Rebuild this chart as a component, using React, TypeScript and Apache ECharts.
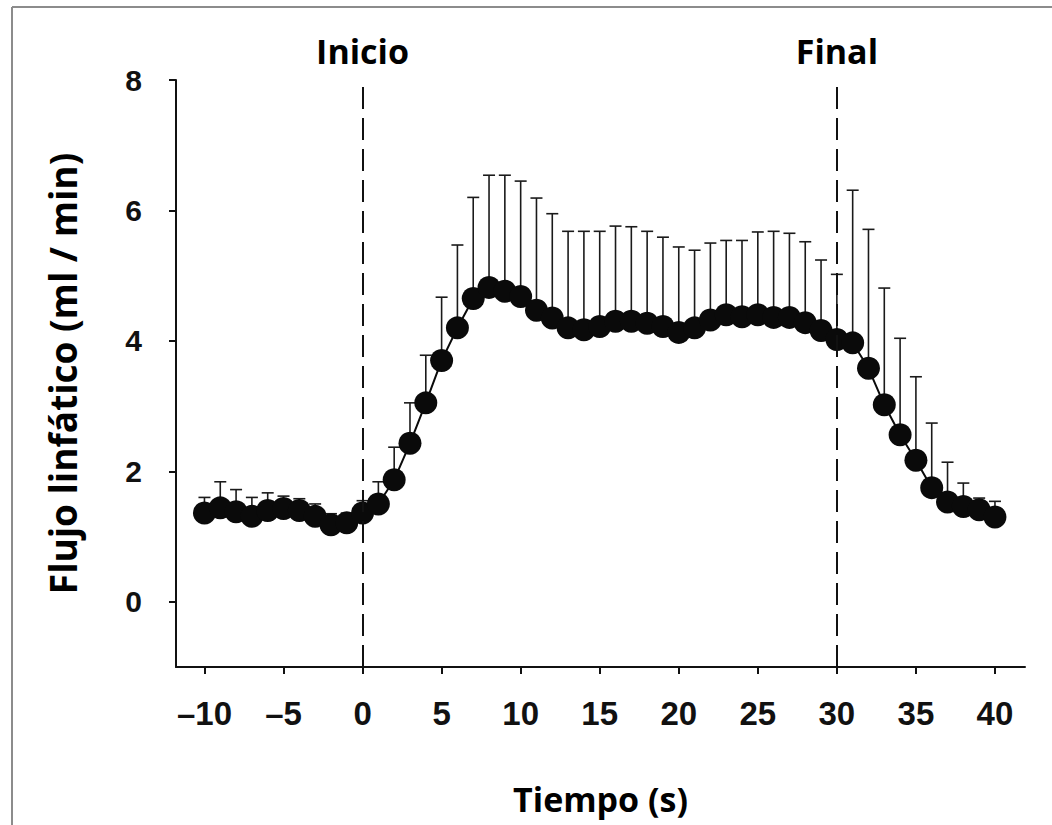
import React, { useEffect, useRef } from "react";
import * as echarts from "echarts";

const times = [-10, -9, -8, -7, -6, -5, -4, -3, -2, -1, 0, 1, 2, 3, 4, 5, 6, 7, 8, 9, 10, 11, 12, 13, 14, 15, 16, 17, 18, 19, 20, 21, 22, 23, 24, 25, 26, 27, 28, 29, 30, 31, 32, 33, 34, 35, 36, 37, 38, 39, 40];
const meanFlow = [1.36, 1.44, 1.38, 1.31, 1.40, 1.43, 1.40, 1.31, 1.18, 1.21, 1.36, 1.50, 1.87, 2.43, 3.05, 3.70, 4.20, 4.65, 4.82, 4.76, 4.68, 4.47, 4.35, 4.20, 4.17, 4.22, 4.30, 4.30, 4.27, 4.22, 4.13, 4.20, 4.32, 4.40, 4.37, 4.40, 4.36, 4.36, 4.28, 4.16, 4.02, 3.97, 3.58, 3.02, 2.56, 2.17, 1.75, 1.53, 1.46, 1.41, 1.30];
const upperFlow = [1.60, 1.84, 1.72, 1.60, 1.67, 1.62, 1.58, 1.50, 1.35, 1.36, 1.55, 1.84, 2.37, 3.05, 3.78, 4.67, 5.47, 6.20, 6.54, 6.54, 6.45, 6.19, 5.95, 5.68, 5.68, 5.68, 5.76, 5.75, 5.68, 5.59, 5.44, 5.39, 5.50, 5.54, 5.54, 5.67, 5.68, 5.65, 5.52, 5.24, 5.02, 6.31, 5.71, 4.81, 4.04, 3.45, 2.74, 2.14, 1.82, 1.59, 1.54];
const xTicks = [-10, -5, 0, 5, 10, 15, 20, 25, 30, 35, 40];
const yTicks = [0, 2, 4, 6, 8];
const eventMarks = [
  { x: 0, label: "Inicio" },
  { x: 30, label: "Final" },
];

const titleFont = "'Open Sans', 'Noto Sans', sans-serif";
const tickFont = "'Liberation Sans', Arial, sans-serif";

export default function App() {
  const ref = useRef<HTMLDivElement>(null);
  useEffect(() => {
    document.body.style.margin = "0";
    const chart = echarts.init(ref.current!, undefined, { renderer: "svg" });
    const lineData = times.map((t, i) => [t, meanFlow[i]]);
    const errData = times.map((t, i) => [t, meanFlow[i], upperFlow[i]]);
    chart.setOption({
      animation: false,
      backgroundColor: "#ffffff",
      graphic: [
        { type: "line", shape: { x1: 12, y1: 7, x2: 12, y2: 825 }, style: { stroke: "#8c8c8c", lineWidth: 2 } },
        { type: "line", shape: { x1: 12, y1: 7, x2: 1052, y2: 7 }, style: { stroke: "#8c8c8c", lineWidth: 2 } },
      ],
      grid: { left: 176, right: 27, top: 80, bottom: 158, containLabel: false },
      xAxis: {
        type: "value",
        min: -11.8,
        max: 41.9,
        name: "Tiempo (s)",
        nameLocation: "middle",
        nameGap: 115,
        nameTextStyle: { fontFamily: titleFont, fontWeight: "bold", fontSize: 34, color: "#000" },
        axisLine: { show: true, onZero: false, lineStyle: { color: "#111", width: 2 } },
        axisTick: { show: true, customValues: xTicks, length: 7, lineStyle: { color: "#111", width: 2 } },
        axisLabel: {
          customValues: xTicks,
          margin: 30,
          fontFamily: tickFont,
          fontWeight: "bold",
          fontSize: 33,
          color: "#111",
          formatter: (v: number) => String(v).replace("-", "\u2013"),
        },
        splitLine: { show: false },
      },
      yAxis: {
        type: "value",
        min: -1,
        max: 8,
        name: "Flujo linfático (ml / min)",
        nameLocation: "middle",
        nameGap: 95,
        nameTextStyle: { fontFamily: titleFont, fontWeight: "bold", fontSize: 37, color: "#000" },
        axisLine: { show: true, onZero: false, lineStyle: { color: "#111", width: 2 } },
        axisTick: { show: true, customValues: yTicks, length: 7, lineStyle: { color: "#111", width: 2 } },
        axisLabel: {
          customValues: yTicks,
          margin: 34,
          fontFamily: tickFont,
          fontWeight: "bold",
          fontSize: 30,
          color: "#111",
        },
        splitLine: { show: false },
      },
      series: [
        {
          type: "custom",
          z: 2,
          data: errData,
          encode: { x: 0, y: [1, 2] },
          renderItem: (params: any, api: any) => {
            const x = api.value(0);
            const m = api.value(1);
            const u = api.value(2);
            const p0 = api.coord([x, m]);
            const p1 = api.coord([x, u]);
            const hw = 6;
            const st = { stroke: "#1a1a1a", lineWidth: 1.6 };
            return {
              type: "group",
              children: [
                { type: "line", shape: { x1: p0[0], y1: p0[1], x2: p1[0], y2: p1[1] }, style: st },
                { type: "line", shape: { x1: p1[0] - hw, y1: p1[1], x2: p1[0] + hw, y2: p1[1] }, style: st },
              ],
            };
          },
        },
        {
          type: "line",
          z: 3,
          data: lineData,
          symbol: "circle",
          symbolSize: 23,
          itemStyle: { color: "#0a0a0a" },
          lineStyle: { color: "#0a0a0a", width: 2 },
          markLine: {
            silent: true,
            symbol: "none",
            lineStyle: { color: "#111", width: 2, type: [22, 9] },
            label: {
              show: true,
              position: "end",
              distance: 12,
              formatter: (p: any) => p.name,
              fontFamily: titleFont,
              fontWeight: "bold",
              fontSize: 34,
              color: "#000",
            },
            data: eventMarks.map((e) => ({ xAxis: e.x, name: e.label })),
          },
        },
      ],
    });
    return () => chart.dispose();
  }, []);
  return <div ref={ref} style={{ position: "absolute", left: 0, top: 0, width: 1052, height: 825 }} />;
}
